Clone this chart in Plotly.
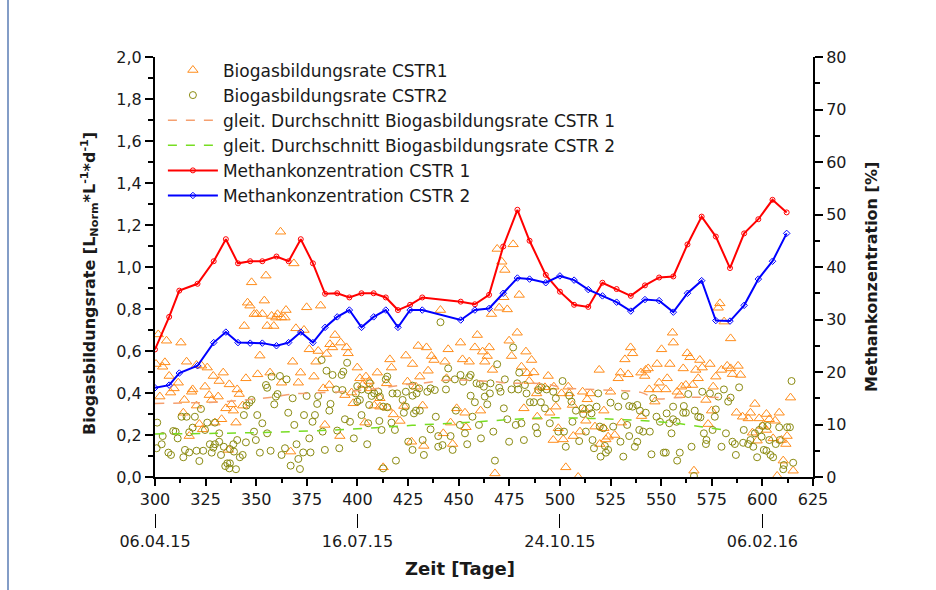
import plotly.graph_objects as go

# ---- Biogas formation rate, CSTR 1 (day, L_Norm / (L*d)) ----
cstr1_day = [
    362.0, 347.7, 354.8, 345.7, 346.9, 354.0, 349.0, 350.2, 353.0, 344.1, 355.4, 358.7, 357.6, 360.5,
    359.7, 362.5, 301.6, 305.7, 312.8, 351.8, 300.5, 304.9, 303.8, 315.6, 320.5, 323.0, 325.8, 307.0,
    328.8, 333.7, 331.7, 336.7, 344.9, 350.7, 356.8, 362.5, 311.5, 309.4, 307.7, 302.4, 318.6, 318.1,
    324.7, 326.8, 328.0, 331.2, 340.6, 341.6, 314.5, 320.5, 337.8, 335.0, 338.7, 343.3, 314.0, 332.9,
    329.6, 321.9, 340.0, 323.5, 316.9, 336.2,
    368.6, 364.7, 364.2, 374.9, 381.8, 369.6, 373.6, 388.9, 386.4, 387.7, 391.7, 394.6, 395.4, 376.2,
    380.6, 384.7, 379.5, 368.0, 399.9, 371.9, 378.5, 370.8, 386.1, 401.2, 404.2, 409.8, 416.0, 416.8,
    423.9, 427.2, 424.7, 414.4, 383.1, 402.5, 405.8, 406.5, 393.8, 397.1, 411.1, 397.9, 408.3, 411.1,
    414.7, 417.7, 422.9, 421.0, 383.9, 403.7, 391.3, 367.0, 412.7, 426.7,
    469.0, 476.9, 471.3, 472.8, 479.9, 472.3, 470.0, 474.0, 466.2, 441.0, 459.2, 478.9, 474.9, 450.9,
    430.0, 434.1, 444.8, 458.0, 465.1, 461.8, 464.1, 476.1, 483.2, 436.6, 437.8, 451.9, 455.2, 462.9,
    486.0, 443.2, 481.0, 466.7, 434.9, 487.1, 483.8, 430.8, 444.0, 484.8, 428.9, 489.8, 488.5, 432.2,
    449.0, 453.1, 460.8, 482.2, 488.8, 446.0, 453.6, 442.4, 447.0, 432.8, 467.9,
    555.6, 556.0, 534.9, 535.9, 550.2, 532.1, 548.0, 554.3, 543.6, 542.4, 519.4, 529.9, 533.7, 540.0,
    541.9, 528.8, 553.0, 494.2, 549.0, 492.6, 497.0, 504.1, 511.2, 515.1, 525.0, 544.1, 548.0, 552.3,
    500.8, 504.6, 513.5, 546.9, 495.0, 498.0, 506.2, 512.3, 521.7, 512.8, 530.4, 540.3, 499.2, 517.3,
    521.7, 501.6, 496.7, 506.6, 509.9, 523.8, 522.7, 527.1, 519.7, 502.9, 509.0,
    579.0, 578.2, 581.1, 584.3, 562.9, 564.2, 569.1, 574.1, 560.9, 567.1, 570.3, 582.6, 584.3, 588.0,
    579.8, 585.2, 589.2, 577.0, 568.3, 562.2, 565.5, 575.7, 560.1, 557.9, 559.2, 572.1, 613.9, 596.3,
    574.9, 587.2, 590.2, 593.0, 594.1, 598.4, 602.0, 603.4, 606.3, 608.3, 573.2, 600.1, 595.1, 602.0,
    605.3, 609.4, 612.2, 597.4, 611.6, 610.3, 615.2, 566.2, 607.3,
]
cstr1_rate = [
    1.168, 0.927, 0.959, 0.830, 0.816, 0.840, 0.776, 0.776, 0.776, 0.719, 0.719, 0.719, 0.767, 0.775,
    0.759, 0.760, 0.679, 0.649, 0.640, 0.578, 0.538, 0.546, 0.525, 0.549, 0.533, 0.530, 0.521, 0.481,
    0.481, 0.497, 0.457, 0.441, 0.470, 0.489, 0.497, 0.449, 0.449, 0.422, 0.402, 0.383, 0.417, 0.406,
    0.430, 0.390, 0.367, 0.383, 0.417, 0.395, 0.367, 0.340, 0.346, 0.327, 0.316, 0.340, 0.306, 0.275,
    0.259, 0.252, 0.259, 0.227, 0.195, 0.129,
    1.017, 0.795, 0.759, 0.808, 0.816, 0.708, 0.700, 0.676, 0.632, 0.617, 0.640, 0.617, 0.589, 0.608,
    0.600, 0.586, 0.549, 0.549, 0.521, 0.497, 0.478, 0.449, 0.438, 0.470, 0.478, 0.497, 0.560, 0.521,
    0.578, 0.538, 0.454, 0.446, 0.422, 0.438, 0.457, 0.422, 0.390, 0.402, 0.375, 0.351, 0.340, 0.335,
    0.330, 0.298, 0.338, 0.267, 0.248, 0.259, 0.195, 0.121, 0.046, 0.168,
    1.086, 1.108, 1.025, 0.986, 0.867, 0.856, 0.806, 0.798, 0.776, 0.795, 0.676, 0.687, 0.649, 0.640,
    0.624, 0.617, 0.608, 0.617, 0.617, 0.597, 0.576, 0.576, 0.597, 0.576, 0.557, 0.560, 0.549, 0.549,
    0.557, 0.549, 0.525, 0.510, 0.506, 0.498, 0.494, 0.478, 0.470, 0.457, 0.430, 0.430, 0.398, 0.340,
    0.327, 0.306, 0.316, 0.327, 0.287, 0.259, 0.237, 0.208, 0.157, 0.148, 0.017,
    0.687, 0.640, 0.617, 0.589, 0.608, 0.560, 0.538, 0.538, 0.517, 0.510, 0.510, 0.497, 0.489, 0.497,
    0.481, 0.470, 0.470, 0.481, 0.449, 0.427, 0.430, 0.430, 0.406, 0.398, 0.406, 0.417, 0.417, 0.417,
    0.398, 0.398, 0.370, 0.359, 0.306, 0.335, 0.343, 0.319, 0.316, 0.268, 0.259, 0.290, 0.232, 0.240,
    0.232, 0.179, 0.176, 0.195, 0.216, 0.192, 0.179, 0.200, 0.157, 0.046, 0.000,
    0.827, 0.806, 0.740, 0.660, 0.589, 0.570, 0.557, 0.538, 0.517, 0.510, 0.521, 0.529, 0.517, 0.529,
    0.510, 0.490, 0.486, 0.478, 0.470, 0.438, 0.438, 0.430, 0.430, 0.406, 0.390, 0.367, 0.378, 0.348,
    0.316, 0.306, 0.287, 0.279, 0.306, 0.279, 0.300, 0.275, 0.268, 0.306, 0.252, 0.243, 0.211, 0.224,
    0.184, 0.176, 0.195, 0.173, 0.157, 0.078, 0.030, 0.030, 0.005,
]

# ---- Biogas formation rate, CSTR 2 ----
cstr2_day = [
    361.7, 357.6, 354.8, 355.4, 360.5, 359.7, 358.9, 347.7, 346.6, 345.2, 343.9, 350.5, 353.0, 322.7,
    313.1, 315.6, 319.7, 301.1, 318.6, 325.8, 329.6, 309.0, 310.2, 303.8, 311.2, 316.9, 324.7, 331.7,
    348.9, 355.4, 349.8, 340.6, 344.9, 338.7, 337.0, 327.1, 329.6, 331.7, 328.8, 334.0, 300.8, 303.3,
    306.6, 307.9, 314.8, 316.9, 320.5, 323.8, 314.0, 321.9, 328.0, 332.6, 339.0, 341.9, 343.3, 351.8,
    357.1, 362.5, 334.7, 335.7, 337.0, 336.7, 340.0,
    382.3, 394.9, 365.0, 384.7, 387.7, 392.2, 393.0, 414.7, 414.0, 406.1, 399.9, 402.0, 405.3, 410.3,
    408.3, 374.9, 380.6, 389.4, 392.6, 399.2, 417.3, 419.6, 423.9, 368.0, 401.2, 399.9, 407.0, 405.8,
    411.1, 412.7, 414.7, 422.3, 423.9, 380.1, 386.7, 386.1, 365.8, 422.9, 373.6, 379.0, 402.0, 393.8,
    396.3, 377.8, 368.8, 405.3, 410.8, 416.8, 382.8, 390.0, 411.9, 418.5, 376.2, 398.2, 425.1, 369.9,
    364.2, 404.8, 427.2, 373.2, 376.8, 383.9, 391.0, 370.8, 367.0, 371.6, 419.0, 412.7,
    441.0, 476.9, 469.0, 444.8, 479.9, 450.9, 455.9, 448.1, 452.2, 455.2, 443.7, 472.8, 465.7, 470.0,
    458.8, 460.5, 478.9, 482.7, 427.2, 430.5, 436.1, 438.2, 434.5, 429.2, 443.7, 462.4, 470.7, 476.1,
    479.4, 489.3, 427.2, 483.5, 455.9, 465.4, 462.9, 458.0, 464.1, 485.2, 487.1, 490.6, 428.9, 427.9,
    430.8, 448.6, 472.3, 456.8, 438.7, 474.0, 460.0, 478.2, 481.0, 488.1, 450.6, 436.1, 453.1, 467.1,
    488.8, 439.9, 446.0, 461.0, 432.2, 474.9, 482.2, 439.9, 442.0, 454.2, 447.0, 432.8, 467.9,
    501.3, 490.9, 493.4, 496.7, 498.0, 504.6, 505.7, 492.6, 507.9, 511.2, 514.5, 515.6, 511.5, 518.1,
    518.9, 532.1, 525.0, 528.8, 534.2, 535.9, 538.2, 539.5, 542.4, 546.1, 552.7, 547.7, 549.4, 554.0,
    555.9, 506.2, 495.0, 519.7, 526.3, 533.2, 499.2, 502.0, 512.8, 539.2, 541.1, 544.4, 555.1, 521.4,
    534.2, 516.1, 509.5, 529.9, 538.2, 502.9, 516.8, 522.2, 523.8, 537.0, 522.7, 520.1, 531.3, 545.2,
    551.3, 552.3,
    614.4, 588.5, 581.0, 584.3, 583.1, 570.3, 574.1, 563.4, 578.2, 555.9, 561.2, 566.6, 560.9, 562.2,
    577.0, 576.5, 568.3, 569.4, 557.6, 575.4, 582.0, 590.8, 596.3, 598.4, 600.1, 602.5, 608.3, 612.2,
    613.6, 571.1, 572.4, 565.0, 572.1, 579.8, 585.2, 586.4, 590.5, 593.0, 594.1, 595.5, 599.6, 603.4,
    606.6, 608.6, 559.2, 557.9, 586.9, 597.4, 600.7, 602.0, 604.0, 605.3, 615.2, 610.6, 610.3, 566.2,
]
cstr2_rate = [
    0.481, 0.478, 0.438, 0.425, 0.395, 0.383, 0.346, 0.367, 0.354, 0.340, 0.295, 0.295, 0.256, 0.324,
    0.287, 0.287, 0.287, 0.259, 0.235, 0.259, 0.259, 0.219, 0.216, 0.195, 0.184, 0.213, 0.224, 0.208,
    0.216, 0.208, 0.176, 0.176, 0.165, 0.156, 0.133, 0.156, 0.156, 0.168, 0.140, 0.144, 0.137, 0.156,
    0.116, 0.105, 0.129, 0.117, 0.125, 0.125, 0.094, 0.076, 0.116, 0.105, 0.121, 0.094, 0.105, 0.116,
    0.125, 0.105, 0.052, 0.065, 0.065, 0.041, 0.037,
    0.557, 0.544, 0.465, 0.506, 0.486, 0.486, 0.502, 0.478, 0.465, 0.446, 0.433, 0.417, 0.414, 0.406,
    0.398, 0.386, 0.386, 0.417, 0.414, 0.398, 0.398, 0.398, 0.406, 0.375, 0.367, 0.359, 0.386, 0.343,
    0.383, 0.335, 0.332, 0.367, 0.335, 0.348, 0.348, 0.316, 0.306, 0.306, 0.295, 0.295, 0.295, 0.275,
    0.263, 0.263, 0.248, 0.256, 0.267, 0.259, 0.216, 0.221, 0.224, 0.224, 0.184, 0.184, 0.168, 0.156,
    0.137, 0.156, 0.129, 0.117, 0.117, 0.129, 0.137, 0.086, 0.054, 0.038, 0.078, 0.041,
    0.737, 0.617, 0.537, 0.517, 0.497, 0.486, 0.486, 0.465, 0.454, 0.475, 0.465, 0.465, 0.446, 0.425,
    0.446, 0.443, 0.446, 0.438, 0.435, 0.422, 0.422, 0.414, 0.406, 0.398, 0.417, 0.430, 0.406, 0.417,
    0.417, 0.414, 0.387, 0.398, 0.387, 0.398, 0.383, 0.356, 0.346, 0.356, 0.356, 0.356, 0.316, 0.303,
    0.316, 0.316, 0.327, 0.287, 0.287, 0.275, 0.248, 0.248, 0.256, 0.237, 0.248, 0.227, 0.208, 0.216,
    0.208, 0.195, 0.195, 0.184, 0.176, 0.168, 0.176, 0.144, 0.152, 0.156, 0.129, 0.105, 0.078,
    0.457, 0.427, 0.417, 0.406, 0.375, 0.387, 0.359, 0.327, 0.316, 0.327, 0.327, 0.303, 0.300, 0.335,
    0.398, 0.386, 0.354, 0.335, 0.338, 0.335, 0.343, 0.316, 0.306, 0.375, 0.303, 0.287, 0.263, 0.256,
    0.275, 0.263, 0.256, 0.240, 0.240, 0.248, 0.216, 0.216, 0.216, 0.224, 0.216, 0.216, 0.208, 0.232,
    0.195, 0.176, 0.171, 0.168, 0.168, 0.144, 0.137, 0.148, 0.129, 0.144, 0.116, 0.097, 0.097, 0.108,
    0.116, 0.116,
    0.457, 0.427, 0.417, 0.378, 0.359, 0.406, 0.398, 0.395, 0.383, 0.335, 0.338, 0.316, 0.306, 0.306,
    0.322, 0.287, 0.287, 0.284, 0.263, 0.224, 0.208, 0.224, 0.208, 0.224, 0.243, 0.243, 0.237, 0.237,
    0.237, 0.208, 0.176, 0.144, 0.157, 0.144, 0.168, 0.157, 0.163, 0.157, 0.176, 0.144, 0.192, 0.176,
    0.157, 0.176, 0.116, 0.078, 0.105, 0.094, 0.129, 0.125, 0.105, 0.094, 0.068, 0.057, 0.037, 0.005,
]

# ---- Moving averages of the formation rates ----
ma1_day = [300, 322, 335, 360, 368, 390, 403, 424, 431, 446, 467, 475, 492, 503, 520, 531, 540, 548, 556, 570, 584]
ma1_rate = [0.350, 0.354, 0.359, 0.383, 0.395, 0.405, 0.414, 0.440, 0.446, 0.462, 0.454, 0.447, 0.444, 0.424, 0.415, 0.411, 0.403, 0.372, 0.377, 0.380, 0.378]

ma2_day = [300, 330, 360, 395, 427, 459, 490, 515, 536, 556, 580]
ma2_rate = [0.205, 0.208, 0.214, 0.227, 0.246, 0.263, 0.281, 0.279, 0.271, 0.257, 0.225]

# ---- Methane content of the biogas (%) ----
ch4_day = [300, 307, 312, 321, 329, 335, 341, 347, 353, 360, 366, 372, 378, 384, 390, 396, 402, 408,
           414, 420, 426, 432, 451, 458, 465, 472, 479, 485, 493, 500, 507, 514, 521, 528, 535, 542,
           549, 556, 563, 570, 577, 584, 591, 598, 605, 612]
ch4_cstr1 = [24.3, 30.5, 35.5, 36.8, 41.1, 45.3, 40.7, 41.1, 41.1, 42.0, 41.1, 45.3, 40.7, 34.9, 35.0,
             34.2, 35.0, 35.0, 34.2, 31.8, 32.8, 34.2, 33.4, 32.9, 34.7, 43.9, 50.9, 45.0, 38.5, 35.3,
             32.8, 32.4, 37.0, 35.8, 34.5, 36.5, 38.0, 38.2, 44.3, 49.6, 45.8, 39.8, 46.4, 49.1, 52.8, 50.4]
ch4_cstr2 = [17.0, 17.5, 19.8, 21.2, 25.6, 27.6, 25.6, 25.5, 25.5, 25.0, 25.6, 27.6, 25.6, 28.5, 30.5,
             31.8, 28.5, 30.5, 31.8, 28.5, 31.8, 31.8, 29.9, 31.8, 32.1, 35.0, 37.9, 37.7, 37.0, 38.3,
             37.5, 35.7, 34.5, 33.3, 31.6, 33.8, 33.6, 31.4, 35.0, 37.4, 29.8, 29.7, 32.7, 37.7, 41.1, 46.4]

# ---- Calendar dates belonging to selected operating days ----
date_days = [300, 400, 500, 600]
date_labels = ["06.04.15", "16.07.15", "24.10.15", "06.02.16"]

FONT = "DejaVu Sans"
ORANGE = "#FF8C1A"
OLIVE = "#8A8A10"
INK = "#1a1a1a"

fig = go.Figure()

fig.add_trace(go.Scatter(
    x=cstr1_day, y=cstr1_rate, mode="markers", name="Biogasbildungsrate CSTR1",
    marker=dict(symbol="triangle-up-open", size=9, color=ORANGE, line=dict(width=1, color=ORANGE)),
))
fig.add_trace(go.Scatter(
    x=cstr2_day, y=cstr2_rate, mode="markers", name="Biogasbildungsrate CSTR2",
    marker=dict(symbol="circle-open", size=7, color=OLIVE, line=dict(width=1, color=OLIVE)),
))
fig.add_trace(go.Scatter(
    x=ma1_day, y=ma1_rate, mode="lines", name="gleit. Durchschnitt Biogasbildungsrate CSTR 1",
    line=dict(color="#F5A070", width=1.5, dash="dash", shape="spline"),
))
fig.add_trace(go.Scatter(
    x=ma2_day, y=ma2_rate, mode="lines", name="gleit. Durchschnitt Biogasbildungsrate CSTR 2",
    line=dict(color="#77DD22", width=1.5, dash="dash", shape="spline"),
))
fig.add_trace(go.Scatter(
    x=ch4_day, y=ch4_cstr1, mode="lines+markers", name="Methankonzentration CSTR 1", yaxis="y2",
    line=dict(color="#FF0000", width=2),
    marker=dict(symbol="circle-open", size=5, color="#FF0000", line=dict(width=1)),
))
fig.add_trace(go.Scatter(
    x=ch4_day, y=ch4_cstr2, mode="lines+markers", name="Methankonzentration CSTR 2", yaxis="y2",
    line=dict(color="#0000FF", width=2),
    marker=dict(symbol="diamond-open", size=5, color="#0000FF", line=dict(width=1)),
))
# carrier for the calendar-date axis
fig.add_trace(go.Scatter(
    x=date_days, y=[None] * len(date_days), xaxis="x2", mode="markers",
    showlegend=False, hoverinfo="skip", marker=dict(opacity=0),
))

tick_font = dict(family=FONT, size=16, color=INK)

fig.update_layout(
    width=936, height=590,
    margin=dict(l=155, r=123, t=57, b=77),
    paper_bgcolor="white", plot_bgcolor="white",
    separators=",.",
    font=dict(family=FONT, color=INK),
    showlegend=True,
    legend=dict(
        x=0.012, y=1.01, xanchor="left", yanchor="top",
        bgcolor="rgba(0,0,0,0)", font=dict(family=FONT, size=17, color=INK),
        itemwidth=50, tracegroupgap=0,
    ),
    xaxis=dict(
        range=[300, 625], tick0=300, dtick=25, showgrid=False, zeroline=False,
        showline=True, linecolor="black", linewidth=2, mirror=False,
        ticks="outside", ticklen=7, tickwidth=2, tickcolor="black", tickfont=tick_font,
        minor=dict(tick0=300, dtick=12.5, ticks="outside", ticklen=4, tickwidth=2, tickcolor="black"),
        anchor="y",
    ),
    xaxis2=dict(
        range=[300, 625], overlaying="x", anchor="free", position=0, side="bottom",
        tickvals=date_days, ticktext=date_labels, showgrid=False, zeroline=False, showline=False,
        ticks="outside", ticklen=14, tickwidth=1, tickcolor="black", tickfont=tick_font,
    ),
    yaxis=dict(
        range=[0, 2], tick0=0, dtick=0.2, tickformat=".1f", domain=[36 / 456, 1],
        showgrid=False, zeroline=False, showline=True, linecolor="black", linewidth=2,
        ticks="outside", ticklen=8, tickwidth=2, tickcolor="black", tickfont=tick_font,
        minor=dict(tick0=0, dtick=0.1, ticks="outside", ticklen=5, tickwidth=2, tickcolor="black"),
    ),
    yaxis2=dict(
        range=[0, 80], tick0=0, dtick=10, overlaying="y", side="right", anchor="x",
        showgrid=False, zeroline=False, showline=True, linecolor="black", linewidth=2,
        ticks="outside", ticklen=8, tickwidth=2, tickcolor="black", tickfont=tick_font,
        minor=dict(tick0=0, dtick=5, ticks="outside", ticklen=5, tickwidth=2, tickcolor="black"),
    ),
)

# axis titles
fig.add_annotation(
    text="<b>Biogasbildungsrate [L<sub>Norm</sub>*L<sup>-1</sup>*d<sup>-1</sup>]</b>",
    xref="paper", yref="paper", x=(89 - 155) / 658, y=(513 - 284) / 456,
    xanchor="center", yanchor="middle", textangle=-90, showarrow=False,
    font=dict(family=FONT, size=16, color=INK),
)
fig.add_annotation(
    text="<b>Methankonzentration [%]</b>",
    xref="paper", yref="paper", x=(871 - 155) / 658, y=(513 - 277) / 456,
    xanchor="center", yanchor="middle", textangle=-90, showarrow=False,
    font=dict(family=FONT, size=16, color=INK),
)
fig.add_annotation(
    text="<b>Zeit [Tage]</b>",
    xref="paper", yref="paper", x=(460 - 155) / 658, y=(513 - 568) / 456,
    xanchor="center", yanchor="middle", showarrow=False,
    font=dict(family=FONT, size=18, color=INK),
)

# thin frame line at the left edge of the page
fig.add_shape(
    type="line", xref="paper", yref="paper",
    x0=(8 - 155) / 658, x1=(8 - 155) / 658, y0=(513 - 0) / 456, y1=(513 - 590) / 456,
    line=dict(color="#5A7DB5", width=1.5),
)

fig.write_html("out.html")
